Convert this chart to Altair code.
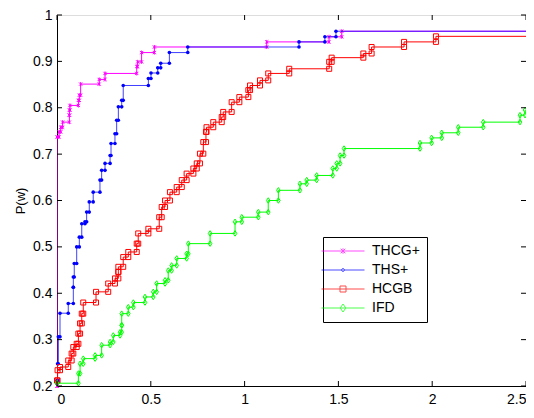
import altair as alt
import pandas as pd

solvers = ["THCG+", "THS+", "HCGB", "IFD"]
colors = ["#ff00ff", "#0000ff", "#ff0000", "#00ff00"]

# step breakpoints (w, P(w))
thcg_x = [0, 0, 0.011, 0.02, 0.03, 0.066, 0.066, 0.069, 0.114, 0.119, 0.126, 0.225, 0.256,
          0.425, 0.43, 0.451, 0.519, 1.118, 1.45, 1.518]
thcg_y = [0.2, 0.737, 0.748, 0.758, 0.769, 0.784, 0.795, 0.805, 0.816, 0.827, 0.851, 0.861, 0.874,
          0.889, 0.899, 0.919, 0.931, 0.942, 0.953, 0.965]

ths_x = [0, 0.003, 0.007, 0.016, 0.06, 0.087, 0.087, 0.092, 0.105, 0.119, 0.132, 0.149, 0.158,
         0.172, 0.193, 0.229, 0.238, 0.256, 0.283, 0.288, 0.309, 0.318, 0.327, 0.345, 0.353,
         0.487, 0.501, 0.537, 0.553, 0.599, 0.697, 1.29, 1.428, 1.487]
ths_y = [0.212, 0.248, 0.306, 0.357, 0.378, 0.413, 0.435, 0.464, 0.5, 0.521, 0.55, 0.554, 0.575,
         0.597, 0.618, 0.644, 0.665, 0.68, 0.697, 0.723, 0.744, 0.773, 0.802, 0.816, 0.848,
         0.863, 0.875, 0.886, 0.896, 0.919, 0.931, 0.942, 0.953, 0.965]

hcgb_x = [0, 0.003, 0.016, 0.06, 0.078, 0.087, 0.105, 0.114, 0.123, 0.132, 0.14, 0.208, 0.273,
          0.309, 0.327, 0.327, 0.353, 0.38, 0.425, 0.433, 0.487, 0.545, 0.558, 0.576, 0.602,
          0.638, 0.665, 0.691, 0.727, 0.745, 0.762, 0.78, 0.794, 0.797, 0.833, 0.878, 0.886,
          0.931, 0.972, 1.02, 1.029, 1.082, 1.126, 1.238, 1.451, 1.464, 1.633, 1.677, 1.85, 2.02]
hcgb_y = [0.212, 0.234, 0.241, 0.255, 0.27, 0.284, 0.291, 0.313, 0.335, 0.356, 0.38, 0.403, 0.421,
          0.432, 0.446, 0.457, 0.478, 0.489, 0.507, 0.529, 0.539, 0.564, 0.586, 0.6, 0.618,
          0.629, 0.644, 0.658, 0.669, 0.68, 0.701, 0.726, 0.748, 0.758, 0.769, 0.78, 0.791,
          0.812, 0.823, 0.838, 0.848, 0.859, 0.874, 0.884, 0.899, 0.908, 0.917, 0.931, 0.942, 0.954]

ifd_x = [0, 0.114, 0.123, 0.14, 0.203, 0.238, 0.283, 0.3, 0.336, 0.345, 0.345, 0.38, 0.407,
         0.469, 0.513, 0.531, 0.576, 0.593, 0.611, 0.638, 0.691, 0.7, 0.816, 0.949, 0.985,
         1.073, 1.126, 1.18, 1.295, 1.331, 1.384, 1.47, 1.491, 1.509, 1.53, 1.935, 1.997,
         2.051, 2.139, 2.272, 2.468, 2.495]
ifd_y = [0.206, 0.227, 0.248, 0.259, 0.266, 0.288, 0.295, 0.309, 0.316, 0.331, 0.356, 0.37, 0.38,
         0.392, 0.403, 0.421, 0.428, 0.449, 0.46, 0.475, 0.485, 0.507, 0.529, 0.554, 0.564,
         0.575, 0.6, 0.622, 0.636, 0.644, 0.654, 0.669, 0.68, 0.697, 0.712, 0.724, 0.735,
         0.746, 0.758, 0.769, 0.784, 0.795]

x_end = 2.5
x_ticks = [0, 0.5, 1, 1.5, 2, 2.5]
y_ticks = [0.2, 0.3, 0.4, 0.5, 0.6, 0.7, 0.8, 0.9, 1]

series = [("THCG+", thcg_x, thcg_y), ("THS+", ths_x, ths_y),
          ("HCGB", hcgb_x, hcgb_y), ("IFD", ifd_x, ifd_y)]

rows = []
for name, xs, ys in series:
    k = 0
    for i in range(len(xs)):
        if i > 0:
            rows.append(dict(solver=name, x=xs[i], y=ys[i - 1], k=k, marker=1)); k += 1
        rows.append(dict(solver=name, x=xs[i], y=ys[i], k=k, marker=1)); k += 1
    rows.append(dict(solver=name, x=x_end, y=ys[-1], k=k, marker=0))
df = pd.DataFrame(rows)

W, H = 469, 371
FONT = "Liberation Sans"

xscale = alt.Scale(domain=[0, 2.5], nice=False, zero=False)
yscale = alt.Scale(domain=[0.2, 1], nice=False, zero=False)
xaxis = alt.Axis(values=x_ticks, format="~g", title="w", tickSize=0, labelPadding=6,
                 titlePadding=4, grid=False, labelFont=FONT, labelFontSize=14,
                 titleFont=FONT, titleFontSize=14, titleFontWeight="normal",
                 labelColor="black", titleColor="black", domainColor="black")
yaxis = alt.Axis(values=y_ticks, format="~g", title="P(w)", tickSize=0, labelPadding=5,
                 titlePadding=5, grid=False, labelFont=FONT, labelFontSize=14,
                 titleFont=FONT, titleFontSize=13, titleFontWeight="normal",
                 labelColor="black", titleColor="black", domainColor="black")


def X(f):
    return alt.X(f, type="quantitative", scale=xscale, axis=xaxis)


def Y(f):
    return alt.Y(f, type="quantitative", scale=yscale, axis=yaxis)


marker_paths = {
    "THCG+": "M-0.8,-0.8L0.8,0.8M-0.8,0.8L0.8,-0.8M0,-1L0,1",
    "THS+": "circle",
    "HCGB": "square",
    "IFD": "M0,-1.3L0.85,0L0,1.3L-0.85,0Z",
}
marker_sizes = {"THCG+": 16, "THS+": 13, "HCGB": 25, "IFD": 18}
line_opacity = {"THCG+": 1.0, "THS+": 0.75, "HCGB": 1.0, "IFD": 1.0}

layers = []
for name, col in zip(solvers, colors):
    sub = alt.Chart(df).transform_filter(alt.datum.solver == name)
    layers.append(
        sub.mark_line(color=col, strokeWidth=1, opacity=line_opacity[name], clip=True)
        .encode(x=X("x"), y=Y("y"), order="k:Q")
    )
    layers.append(
        sub.transform_filter(alt.datum.marker == 1)
        .mark_point(shape=marker_paths[name], color=col, size=marker_sizes[name],
                    filled=(name == "THS+"), strokeWidth=1, opacity=1)
        .encode(x=X("x"), y=Y("y"))
    )

# inward ticks on all four sides
xt = alt.Chart(pd.DataFrame({"t": x_ticks}))
yt = alt.Chart(pd.DataFrame({"t": y_ticks}))
ticks = [
    xt.mark_rule(color="black", strokeWidth=1).encode(x=X("t"), y=alt.value(H), y2=alt.value(H - 5)),
    xt.mark_rule(color="black", strokeWidth=1).encode(x=X("t"), y=alt.value(0), y2=alt.value(5)),
    yt.mark_rule(color="black", strokeWidth=1).encode(y=Y("t"), x=alt.value(0), x2=alt.value(5)),
    yt.mark_rule(color="black", strokeWidth=1).encode(y=Y("t"), x=alt.value(W - 5), x2=alt.value(W)),
]

# legend symbols: line sample (43px) with marker in the middle; unit = 5px at size 100
legend_paths = [
    "M-4.3,0H4.3M-0.45,-0.45L0.45,0.45M-0.45,0.45L0.45,-0.45M0,-0.55V0.55",
    "M-4.3,0H4.3M0.3,0A0.3,0.3 0 1,1 -0.3,0A0.3,0.3 0 1,1 0.3,0",
    "M-4.3,0H4.3M-0.6,-0.6H0.6V0.6H-0.6Z",
    "M-4.3,0H4.3M0,-0.8L0.55,0L0,0.8L-0.55,0Z",
]
leg = alt.Legend(title=None, orient="none", legendX=266, legendY=222, direction="vertical",
                 fillColor="white", strokeColor="black", padding=7, labelFont=FONT,
                 labelFontSize=14, labelColor="black", symbolSize=100, symbolStrokeWidth=1,
                 symbolOffset=6, labelOffset=22, rowPadding=5, cornerRadius=0)
legend_layer = (
    alt.Chart(df)
    .transform_filter("false")
    .mark_point(strokeWidth=1)
    .encode(
        color=alt.Color("solver:N", scale=alt.Scale(domain=solvers, range=colors), legend=leg),
        shape=alt.Shape("solver:N", scale=alt.Scale(domain=solvers, range=legend_paths), legend=leg),
    )
)

chart = (
    alt.layer(*layers, *ticks, legend_layer)
    .properties(width=W, height=H, padding={"left": 49, "top": 7, "right": 0, "bottom": 24},
                autosize=alt.AutoSizeParams(type="none"))
    .configure_view(stroke="black", strokeWidth=1)
    .configure(background="white")
)

chart.save("out.html", embed_options={"renderer": "svg", "actions": False})
